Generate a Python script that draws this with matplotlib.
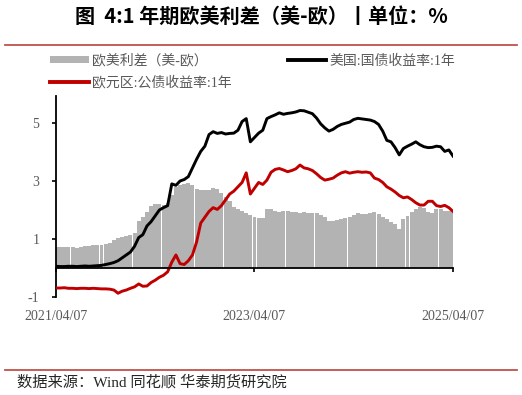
import pandas as pd
import matplotlib
matplotlib.use('Agg')
import matplotlib.pyplot as plt
from matplotlib.patches import Patch
from matplotlib.lines import Line2D

# semi-monthly sampling, 2021/04/07 .. 2025/04/07
dates = pd.date_range('2021-04-07', '2025-04-07', periods=97)

us_1y = [0.06, 0.05, 0.05, 0.06, 0.06, 0.05, 0.06, 0.07, 0.06, 0.07,
         0.08, 0.09, 0.12, 0.15, 0.19, 0.25, 0.35, 0.45, 0.55, 0.75,
         1.05, 1.15, 1.45, 1.60, 1.80, 2.00, 2.08, 2.15, 2.90, 2.85,
         3.00, 3.05, 3.15, 3.45, 3.75, 4.02, 4.20, 4.60, 4.70, 4.64,
         4.67, 4.62, 4.64, 4.65, 4.75, 5.05, 5.15, 4.35, 4.50, 4.65,
         4.75, 5.15, 5.22, 5.28, 5.35, 5.30, 5.33, 5.35, 5.38, 5.43,
         5.42, 5.37, 5.32, 5.17, 4.97, 4.83, 4.72, 4.78, 4.88, 4.95,
         4.99, 5.03, 5.12, 5.16, 5.14, 5.12, 5.10, 5.05, 4.95, 4.72,
         4.40, 4.35, 4.15, 3.90, 4.12, 4.20, 4.27, 4.35, 4.25, 4.18,
         4.15, 4.16, 4.20, 4.18, 4.02, 4.07, 3.86]

eu_1y = [-0.69, -0.69, -0.68, -0.70, -0.70, -0.71, -0.70, -0.70, -0.71, -0.70,
         -0.71, -0.72, -0.72, -0.73, -0.76, -0.87, -0.80, -0.76, -0.70, -0.65,
         -0.55, -0.63, -0.62, -0.50, -0.42, -0.32, -0.25, -0.13, 0.20, 0.45,
         0.15, 0.12, 0.25, 0.45, 0.90, 1.55, 1.75, 1.95, 2.08, 2.02,
         2.15, 2.35, 2.55, 2.65, 2.80, 2.95, 3.28, 2.55, 2.75, 2.95,
         2.88, 3.03, 3.30, 3.40, 3.43, 3.38, 3.32, 3.36, 3.42, 3.55,
         3.45, 3.42, 3.36, 3.25, 3.12, 3.03, 3.06, 3.10, 3.20, 3.28,
         3.32, 3.27, 3.30, 3.32, 3.30, 3.31, 3.28, 3.10, 3.05, 2.95,
         2.80, 2.72, 2.62, 2.50, 2.42, 2.45, 2.36, 2.25, 2.17, 2.17,
         2.30, 2.30, 2.15, 2.12, 2.16, 2.08, 1.95]

spread = [0.73, 0.72, 0.71, 0.72, 0.72, 0.70, 0.74, 0.76, 0.77, 0.78,
          0.79, 0.80, 0.82, 0.86, 0.97, 1.05, 1.08, 1.10, 1.14, 1.20,
          1.62, 1.75, 1.94, 2.15, 2.20, 2.20, 2.17, 2.25, 2.50, 2.80,
          2.86, 2.88, 2.92, 2.85, 2.72, 2.69, 2.68, 2.70, 2.75, 2.72,
          2.60, 2.45, 2.30, 2.10, 2.02, 1.96, 1.88, 1.83, 1.77, 1.72,
          1.74, 2.05, 2.05, 1.98, 1.94, 1.95, 1.96, 1.94, 1.93, 1.88,
          1.92, 1.90, 1.90, 1.88, 1.83, 1.75, 1.62, 1.62, 1.65, 1.68,
          1.72, 1.77, 1.83, 1.88, 1.85, 1.86, 1.88, 1.94, 1.85, 1.75,
          1.68, 1.60, 1.52, 1.35, 1.68, 1.80, 1.92, 2.05, 2.10, 2.06,
          1.92, 1.90, 2.05, 2.03, 1.98, 1.96, 1.93]

tick_dates = ['2021-04-07', '2023-04-07', '2025-04-07']
tick_labels = ['2021/04/07', '2023/04/07', '2025/04/07']
y_ticks = [-1, 1, 3, 5]

title = '图  4:1 年期欧美利差（美-欧）丨单位：%'
source = '数据来源：Wind 同花顺 华泰期货研究院'
names = ['欧美利差（美-欧）', '欧元区:公债收益率:1年', '美国:国债收益率:1年']

serif_cn = ['Liberation Serif', 'Noto Sans CJK SC']
txt_gray = '#595959'
W, H = 522, 395

fig = plt.figure(figsize=(W / 100, H / 100), dpi=100)
ax = fig.add_axes([56 / W, 1 - 297 / H, 397 / W, (297 - 96) / H])

ax.bar(dates, spread, width=14.6, color='#B3B3B3', linewidth=0, zorder=1)
ax.plot(dates, us_1y, color='black', lw=2.1, zorder=3)
ax.plot(dates, eu_1y, color='#C00000', lw=2.1, zorder=3)

ax.set_xlim(pd.Timestamp('2021-04-07'), pd.Timestamp('2025-04-07'))
ax.set_ylim(-1, 5.93)
ax.spines['top'].set_visible(False)
ax.spines['right'].set_visible(False)
ax.spines['bottom'].set_position(('data', 0))
ax.spines['bottom'].set_linewidth(1.3)
ax.spines['left'].set_linewidth(1.3)
ax.spines['bottom'].set_zorder(4)

ax.set_xticks([pd.Timestamp(d) for d in tick_dates])
ax.set_xticklabels(tick_labels, family='Liberation Serif')
ax.set_yticks(y_ticks)
ax.set_yticklabels([str(v) for v in y_ticks], family='Liberation Serif')
ax.tick_params(axis='x', direction='out', length=3, width=1.2, pad=27,
               labelsize=10, labelcolor=txt_gray)
ax.tick_params(axis='y', direction='out', length=3, width=1.2, pad=9,
               labelsize=10, labelcolor=txt_gray)

handles = [Patch(facecolor='#B3B3B3', edgecolor='none'),
           Line2D([], [], color='#C00000', lw=2.8),
           Line2D([], [], color='black', lw=2.8)]
fig.legend(handles, names, ncol=2, loc='upper left',
           bbox_to_anchor=(50 / W, 1 - 54 / H), frameon=False,
           prop={'family': serif_cn, 'size': 10}, labelcolor=txt_gray,
           handlelength=2.8, handleheight=0.35, handletextpad=0.25,
           columnspacing=4.0, labelspacing=0.55, borderpad=0,
           borderaxespad=0)

fig.text(0.5, 1 - 16 / H, title, ha='center', va='center', fontsize=14.5,
         fontweight='bold', family=['Noto Sans CJK SC'])
fig.add_artist(Line2D([5 / W, 517 / W], [1 - 44.5 / H] * 2,
                      color='#C0504D', lw=1.3))
fig.add_artist(Line2D([5 / W, 517 / W], [1 - 369.5 / H] * 2,
                      color='#C0504D', lw=1.3))
fig.text(17 / W, 1 - 382 / H, source, ha='left', va='center', fontsize=11,
         family=serif_cn, color='#262626')

fig.savefig('out.png', dpi=100)
